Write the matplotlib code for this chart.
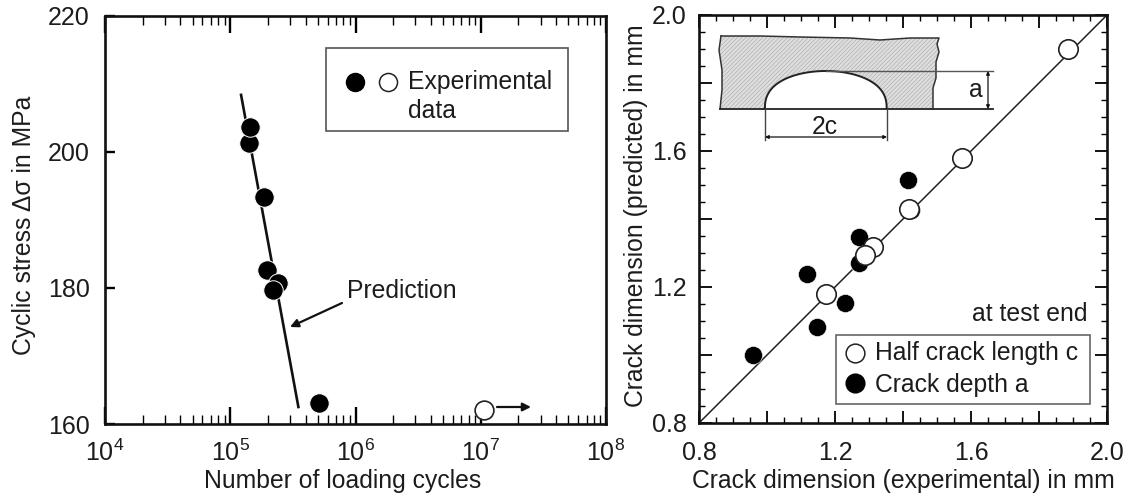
import numpy as np
import matplotlib
matplotlib.use("Agg")
import matplotlib.pyplot as plt
from matplotlib.patches import Rectangle, Polygon, FancyArrowPatch
from matplotlib.transforms import Affine2D
from matplotlib.ticker import MultipleLocator, NullFormatter

plt.rcParams['font.family'] = ['Liberation Sans', 'DejaVu Sans']
plt.rcParams['mathtext.fontset'] = 'custom'
plt.rcParams['mathtext.rm'] = 'Liberation Sans'
plt.rcParams['mathtext.default'] = 'regular'
plt.rcParams['hatch.linewidth'] = 0.4

# Left panel data
cycles_filled = [1.42e5, 1.45e5, 1.87e5, 1.98e5, 2.42e5, 2.21e5, 5.15e5]
stress_filled = [201.3, 203.7, 193.4, 182.7, 180.8, 179.7, 163.1]
cycles_open = [1.06e7]
stress_open = [162.0]
pred_cycles = [1.22e5, 3.5e5]
pred_stress = [208.4, 162.5]
x_ticks_left = [1e4, 1e5, 1e6, 1e7, 1e8]
x_labels_left = ['$10^{4}$', '$10^{5}$', '$10^{6}$', '$10^{7}$', '$10^{8}$']
y_ticks_left = [160, 180, 200, 220]

# Right panel data
half_exp = [1.884, 1.573, 1.418, 1.311, 1.288, 1.174]
half_pred = [1.900, 1.579, 1.429, 1.317, 1.294, 1.179]
depth_exp = [1.423, 1.416, 1.270, 1.271, 1.117, 1.229, 1.146, 0.958]
depth_pred = [1.426, 1.515, 1.346, 1.270, 1.238, 1.153, 1.083, 1.001]
ticks_right = [0.8, 1.2, 1.6, 2.0]
ref_line = [0.8, 2.0]

W, H = 1126, 499
INK = '#1c1c1c'
TXT = 17.8
fig = plt.figure(figsize=(W / 100, H / 100), dpi=100)
px = Affine2D().scale(1 / W, -1 / H).translate(0, 1) + fig.transFigure


def axes_px(l, t, r, b):
    return fig.add_axes([l / W, 1 - b / H, (r - l) / W, (b - t) / H])


def label(x, y, s, size=TXT, ha='left', va='center', **kw):
    fig.text(x, y, s, transform=px, fontsize=size, ha=ha, va=va, color=INK, **kw)


def arrow(x0, y0, x1, y1, lw=1.6, head=12, style='-|>', color='#111111'):
    fig.add_artist(FancyArrowPatch((x0, y0), (x1, y1), transform=px,
                                   arrowstyle=style, mutation_scale=head, lw=lw,
                                   color=color, shrinkA=0, shrinkB=0, zorder=6))


# ---------- left ----------
ax = axes_px(105, 16, 606, 424)
ax.set_xscale('log')
ax.set_xlim(1e4, 1e8)
ax.set_ylim(160, 220)
ax.plot(pred_cycles, pred_stress, color='#111111', lw=1.9, zorder=2)
ax.plot(cycles_filled, stress_filled, 'o', ms=14, mfc='black', mec='white', mew=0.7, zorder=3)
ax.plot(cycles_open, stress_open, 'o', ms=13.5, mfc='white', mec='#222222', mew=1.2, zorder=3, clip_on=False)
ax.set_xticks(x_ticks_left)
ax.set_xticklabels(x_labels_left)
ax.xaxis.set_minor_locator(matplotlib.ticker.LogLocator(base=10, subs=np.arange(2, 10), numticks=10))
ax.xaxis.set_minor_formatter(NullFormatter())
ax.set_yticks(y_ticks_left)
ax.tick_params(axis='x', which='major', direction='in', length=12.5, width=1.7, top=True,
               labelsize=18, pad=11, labelcolor=INK)
ax.tick_params(axis='x', which='minor', direction='in', length=6.5, width=1.0, top=True)
ax.tick_params(axis='y', which='major', direction='in', length=7.5, width=1.7, labelsize=18,
               pad=11, labelcolor=INK)
for s in ax.spines.values():
    s.set_linewidth(1.9)
    s.set_color('#111111')
ax.patch.set_alpha(0)

fig.add_artist(Rectangle((326, 48), 242, 83, transform=px, fc='white', ec='#555555', lw=1.2, zorder=5))
fig.add_artist(plt.Line2D([355], [82], transform=px, marker='o', ms=13, mfc='black', mec='black', zorder=6))
fig.add_artist(plt.Line2D([388], [82], transform=px, marker='o', ms=13, mfc='white', mec='#222222', mew=1.1, zorder=6))
label(408, 82, 'Experimental', zorder=7)
label(408, 111, 'data', zorder=7)
label(347, 291, 'Prediction')
arrow(342, 303, 290, 327)
arrow(497, 407, 531, 407)
label(343, 481, 'Number of loading cycles', ha='center')
label(24, 225, 'Cyclic stress Δσ in MPa', ha='center', rotation=90)

# ---------- right ----------
ar = axes_px(699, 15, 1107, 423)
ar.set_xlim(0.8, 2.0)
ar.set_ylim(0.8, 2.0)
ar.plot(ref_line, ref_line, color='#222222', lw=1.1, zorder=1)
ar.plot(depth_exp, depth_pred, 'o', ms=13, mfc='black', mec='white', mew=0.4, zorder=2)
ar.plot(half_exp, half_pred, 'o', ms=14, mfc='white', mec='#222222', mew=1.2, zorder=3)
ar.xaxis.set_major_locator(MultipleLocator(0.2))
ar.yaxis.set_major_locator(MultipleLocator(0.2))
ar.xaxis.set_minor_locator(MultipleLocator(0.05))
ar.yaxis.set_minor_locator(MultipleLocator(0.05))
major_labels = {f'{t:.1f}' for t in ticks_right}
fmt = matplotlib.ticker.FuncFormatter(lambda v, _: f'{v:.1f}' if f'{v:.1f}' in major_labels else '')
ar.xaxis.set_major_formatter(fmt)
ar.yaxis.set_major_formatter(fmt)
ar.tick_params(axis='x', which='major', direction='in', length=9, width=1.3, top=True,
               labelsize=18, labelcolor=INK, pad=13)
ar.tick_params(axis='y', which='major', direction='in', length=9, width=1.3, right=True,
               labelsize=18, labelcolor=INK, pad=9)
for axis in ('x', 'y'):
    ar.tick_params(axis=axis, which='minor', direction='in', length=4.5, width=1.0, top=True, right=True)
for s in ar.spines.values():
    s.set_linewidth(1.9)
    s.set_color('#111111')
ar.patch.set_alpha(0)

# inset sketch
theta = np.linspace(0, np.pi, 60)
arc_x = 825.8 + 60.9 * np.cos(theta)
arc_y = 109 - 38 * np.sin(theta) ** 0.8
outline = [(721, 36), (760, 36), (800, 37), (850, 38), (880, 40), (910, 38), (939, 38), (937, 44), (939, 52),
           (936, 62), (936, 78), (933, 88), (933, 109)]
outline += list(zip(arc_x, arc_y))
outline += [(720, 109), (722, 90), (722, 70), (719, 50)]
fig.add_artist(Polygon(outline, closed=True, transform=px, fc='#dedede', ec='#a8a8a8', lw=0,
                       hatch='////////', zorder=4))
fig.add_artist(plt.Line2D([p[0] for p in outline[:13]], [p[1] for p in outline[:13]], transform=px, color='#333333', lw=1.1, zorder=5))
fig.add_artist(plt.Line2D(arc_x, arc_y, transform=px, color='#222222', lw=1.4, zorder=5))
fig.add_artist(plt.Line2D([720, 722, 722, 719, 721], [109, 90, 70, 50, 36], transform=px, color='#333333', lw=1.1, zorder=5))
fig.add_artist(plt.Line2D([720, 993], [109, 109], transform=px, color='#222222', lw=1.3, zorder=5))
fig.add_artist(plt.Line2D([826, 993], [71, 71], transform=px, color='#555555', lw=1.0, zorder=5))
fig.add_artist(plt.Line2D([765, 765], [109, 140], transform=px, color='#444444', lw=1.0, zorder=5))
fig.add_artist(plt.Line2D([887, 887], [109, 140], transform=px, color='#444444', lw=1.0, zorder=5))
arrow(765, 137, 887, 137, lw=0.9, head=5, style='<|-|>')
arrow(988, 71, 988, 109, lw=0.9, head=5, style='<|-|>')
label(975.5, 90, 'a', ha='center', zorder=7)
label(825, 127, '2c', ha='center', zorder=7)

fig.add_artist(Rectangle((836, 335), 254, 69, transform=px, fc='white', ec='#666666', lw=1.2, zorder=5))
fig.add_artist(plt.Line2D([855], [353], transform=px, marker='o', ms=13.5, mfc='white', mec='#222222', mew=1.1, zorder=6))
fig.add_artist(plt.Line2D([855], [383], transform=px, marker='o', ms=13.5, mfc='black', mec='black', zorder=6))
label(875, 353, 'Half crack length c', zorder=7)
label(875, 385, 'Crack depth a', zorder=7)
label(1087, 314, 'at test end', ha='right')
label(903, 481, 'Crack dimension (experimental) in mm', ha='center')
label(636, 216, 'Crack dimension (predicted) in mm', ha='center', rotation=90)

fig.savefig('out.png', dpi=100)
